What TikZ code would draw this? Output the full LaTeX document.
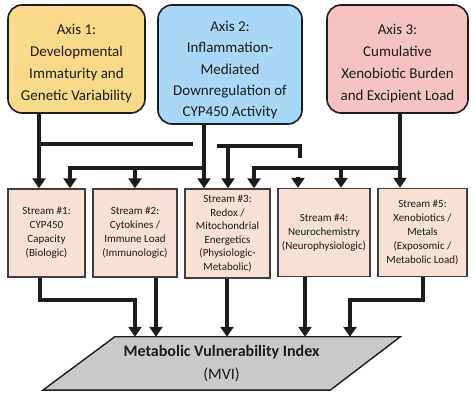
\documentclass[tikz,border=0pt]{standalone}
\usepackage{fontspec}
\setmainfont{Carlito}
\usetikzlibrary{arrows.meta,backgrounds}
\definecolor{axisA}{HTML}{F9D98A}
\definecolor{axisB}{HTML}{A8D8F6}
\definecolor{axisC}{HTML}{F5C4C2}
\definecolor{streamfill}{HTML}{F6E1D4}
\definecolor{mvifill}{HTML}{C9C9C9}
\definecolor{ink}{HTML}{1C1C1C}
\begin{document}
\begin{tikzpicture}[x=1pt,y=-1pt,
    axisbox/.style={draw=ink,line width=1.6pt,rounded corners=14pt,align=center,text=ink,
      inner sep=0pt,font=\fontsize{15}{22}\selectfont},
    streambox/.style={draw=ink!85,line width=1.4pt,fill=streamfill,align=center,text=ink,
      inner sep=0pt,minimum height=88pt,font=\fontsize{11}{14}\selectfont},
    flow/.style={line width=4.8pt,draw=ink},
    flowarrow/.style={flow,-{Triangle[length=10pt,width=13pt]}}]
  \useasboundingbox (0,0) rectangle (475,398);
  \node[axisbox,fill=axisA,minimum width=137pt,minimum height=108pt] (ax1) at (76.5,59)
      {\rule{0pt}{20pt}Axis 1:\\Developmental\\Immaturity and\\Genetic Variability};
  \node[axisbox,fill=axisB,minimum width=144pt,minimum height=119pt,
        font=\fontsize{15}{21.3}\selectfont] (ax2) at (230,64.5)
      {\rule{0pt}{22pt}Axis 2:\\Inflammation-\\Mediated\\Downregulation of\\CYP450 Activity};
  \node[axisbox,fill=axisC,minimum width=141pt,minimum height=108pt] (ax3) at (397.5,59)
      {\rule{0pt}{20pt}Axis 3:\\Cumulative\\Xenobiotic Burden\\and Excipient Load};
  \node[streambox,minimum width=77pt] (s1) at (46.5,233)
      {Stream \#1:\\CYP450\\Capacity\\(Biologic)};
  \node[streambox,minimum width=84pt] (s2) at (135,233)
      {Stream \#2:\\Cytokines /\\Immune Load\\(Immunologic)};
  \node[streambox,minimum width=85pt,minimum height=89pt,
        font=\fontsize{11}{13.6}\selectfont] (s3) at (227.5,233.5)
      {Stream \#3:\\Redox /\\Mitochondrial\\Energetics\\(Physiologic-\\Metabolic)};
  \node[streambox,minimum width=92pt] (s4) at (324,232.5)
      {Stream \#4:\\Neurochemistry\\(Neurophysiologic)};
  \node[streambox,minimum width=89pt] (s5) at (422.5,232.5)
      {Stream \#5:\\Xenobiotics /\\Metals\\(Exposomic /\\Metabolic Load)};
  \node[align=center,text=ink,inner sep=0pt,minimum width=285pt,minimum height=53pt,
        font=\fontsize{16}{23}\selectfont] (mvi) at (221.5,363.5)
      {\textbf{Metabolic Vulnerability Index}\\(MVI)};
  \begin{scope}[on background layer]
    \draw[draw=ink,line width=1.4pt,fill=mvifill]
      ([xshift=36pt]mvi.north west) -- ([xshift=36pt]mvi.north east)
      -- ([xshift=-34pt]mvi.south east) -- ([xshift=-36pt]mvi.south west) -- cycle;
  \end{scope}
  % axis 1
  \coordinate (c1) at (39,144);
  \coordinate (c1e) at (193,144);
  \draw[flowarrow] (ax1.south -| c1) -- (s1.north -| c1);
  \draw[flow] (c1) -- (c1e);
  % axis 2
  \coordinate (c2) at (204,168);
  \coordinate (c2a) at (70,168);
  \coordinate (c2b) at (135,168);
  \draw[flowarrow] (ax2.south -| c2) -- (s3.north -| c2);
  \draw[flowarrow] (c2) -- (c2a) -- (s1.north -| c2a);
  \draw[flowarrow] (c2b) -- (s2.north -| c2b);
  \coordinate (c3) at (217,146);
  \coordinate (c3a) at (228,146);
  \coordinate (c3b) at (300,146);
  \coordinate (c3c) at (300,158);
  \draw[flow] (c3) -- (c3b) -- (c3c);
  \draw[flowarrow] (c3a) -- (s3.north -| c3a);
  % axis 3
  \coordinate (c4) at (400,168);
  \coordinate (c4a) at (254,168);
  \coordinate (c4b) at (341,168);
  \coordinate (c4c) at (298,177);
  \draw[flowarrow] (ax3.south -| c4) -- (s5.north -| c4);
  \draw[flowarrow] (c4) -- (c4a) -- (s3.north -| c4a);
  \draw[flowarrow] (c4b) -- (s4.north -| c4b);
  \draw[flowarrow] (c4c) -- (s4.north -| c4c);
  % streams to index
  \coordinate (d1) at (40,300);
  \coordinate (d1b) at (135,300);
  \coordinate (d2) at (156,300);
  \coordinate (d3) at (227,300);
  \coordinate (d4) at (305,300);
  \coordinate (d5) at (423,300);
  \coordinate (d5b) at (350,300);
  \draw[flowarrow] (s1.south -| d1) -- (d1) -- (d1b) -- (mvi.north -| d1b);
  \draw[flowarrow] (s2.south -| d2) -- (mvi.north -| d2);
  \draw[flowarrow] (s3.south -| d3) -- (mvi.north -| d3);
  \draw[flowarrow] (s4.south -| d4) -- (mvi.north -| d4);
  \draw[flowarrow] (s5.south -| d5) -- (d5) -- (d5b) -- (mvi.north -| d5b);
\end{tikzpicture}
\end{document}
